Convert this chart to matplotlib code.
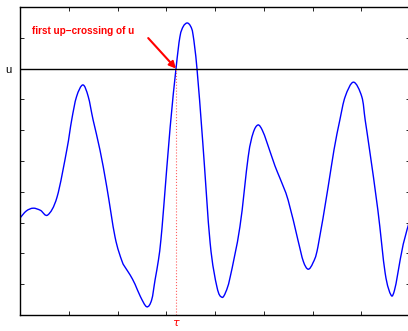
import matplotlib
matplotlib.use("Agg")
import matplotlib.pyplot as plt
import numpy as np
from matplotlib.path import Path
from matplotlib.patches import PathPatch

# process sample path
t = [0.0, 0.13, 0.27, 0.42, 0.57, 0.76, 0.96, 1.06, 1.16, 1.29, 1.40, 1.50, 1.64,
     1.78, 1.95, 2.09, 2.17, 2.26, 2.36, 2.47, 2.60, 2.70, 2.77, 2.84, 2.89, 2.95,
     3.08, 3.20, 3.28, 3.35, 3.43, 3.50, 3.55, 3.63, 3.75, 3.90, 4.04, 4.14, 4.22,
     4.31, 4.51, 4.68, 4.78, 4.88, 4.97, 5.07, 5.23, 5.33, 5.50, 5.70, 5.81, 5.91,
     6.01, 6.11, 6.32, 6.44, 6.56, 6.67, 6.84, 7.01, 7.08, 7.17, 7.34, 7.49, 7.61,
     7.68, 7.75, 7.86, 8.0]
x = [3.15, 3.38, 3.47, 3.40, 3.25, 3.83, 5.36, 6.33, 7.09, 7.47, 7.09, 6.33, 5.36,
     4.16, 2.53, 1.76, 1.52, 1.30, 1.00, 0.60, 0.27, 0.49, 1.14, 1.79, 2.44, 3.55,
     6.10, 8.0, 9.03, 9.37, 9.48, 9.37, 9.09, 8.0, 5.58, 2.34, 0.91, 0.58, 0.75,
     1.23, 2.86, 5.13, 5.90, 6.17, 6.00, 5.58, 4.84, 4.45, 3.73, 2.44, 1.75, 1.49,
     1.70, 2.21, 4.16, 5.36, 6.33, 7.09, 7.56, 7.09, 6.33, 5.36, 3.41, 1.36, 0.65,
     0.80, 1.36, 2.30, 3.10]

u = 8.0
tau = 3.20
xticks = [1, 2, 3, 4, 5, 6, 7]
yticks = [1, 2, 3, 4, 5, 6, 7, 8, 9]


def smooth_path(px, py):
    # cubic bezier segments through every point (catmull-rom tangents)
    p = np.column_stack([px, py])
    ext = np.vstack([p[0], p, p[-1]])
    verts = [p[0]]
    codes = [Path.MOVETO]
    for i in range(len(p) - 1):
        a, b, c, d = ext[i], ext[i + 1], ext[i + 2], ext[i + 3]
        verts += [b + (c - a) / 6, c - (d - b) / 6, c]
        codes += [Path.CURVE4] * 3
    return Path(verts, codes)


fig = plt.figure(figsize=(4.08, 3.31), dpi=100)
ax = fig.add_axes([0.049, 0.048, 0.956, 0.931])

ax.add_patch(PathPatch(smooth_path(t, x), facecolor="none", edgecolor="#0000ff", lw=1.0))
ax.axhline(u, color="k", lw=1.0)
ax.plot([tau, tau], [0, u], color="#ff6060", lw=0.8, linestyle=":")

ax.text(0.25, 9.22, "first up\u2212crossing of u", color="#ff0000", fontsize=7.2,
        fontweight="bold", family="Liberation Sans", va="center", ha="left")
ax.annotate("", xy=(tau, u), xytext=(2.63, 8.99),
            arrowprops=dict(arrowstyle="-|>", color="#ff0000", lw=1.5,
                            mutation_scale=10, shrinkA=0, shrinkB=0))

ax.set_xlim(0, 8)
ax.set_ylim(0, 10)
ax.set_xticks(xticks)
ax.set_xticklabels([])
ax.set_yticks(yticks)
ax.set_yticklabels(["u" if v == u else "" for v in yticks], fontsize=8,
                   family="Liberation Sans")
ax.tick_params(direction="in", length=3, width=0.6, top=True, right=True, pad=6)
ax.annotate(r"$\tau$", xy=(tau, 0), xytext=(0, -6), textcoords="offset points",
            color="#ff0000", fontsize=8, ha="center", va="center")
for s in ax.spines.values():
    s.set_linewidth(1.0)

fig.savefig("out.png", dpi=100)
